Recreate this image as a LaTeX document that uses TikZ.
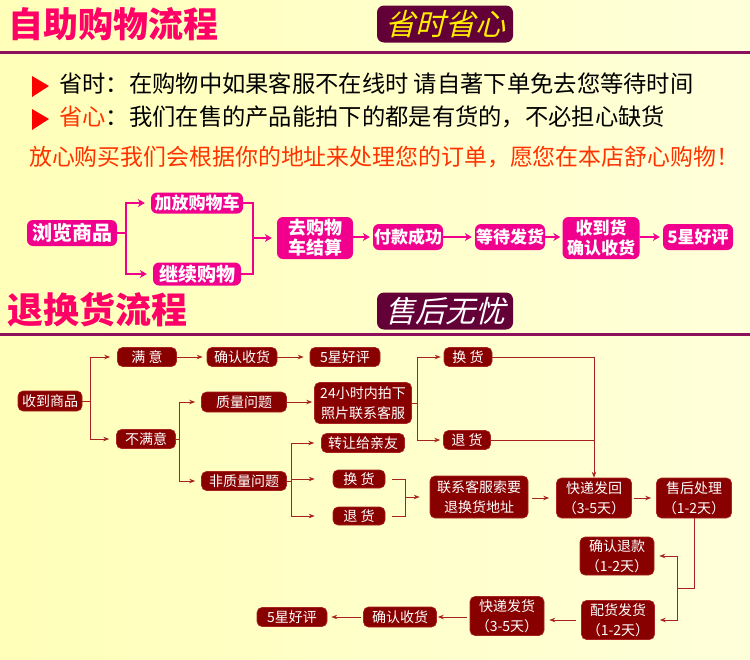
\documentclass[tikz,border=0pt]{standalone}
\usepackage{fontspec}
\setmainfont{Noto Sans CJK SC}
\newfontfamily\cjkslant[FakeSlant=0.25]{Noto Sans CJK SC}
\usetikzlibrary{arrows.meta, positioning}
\definecolor{bgleft}{RGB}{255,255,185}
\definecolor{bgright}{RGB}{255,255,218}
\definecolor{rose}{RGB}{240,0,140}
\definecolor{wine}{RGB}{100,0,56}
\definecolor{rulecol}{RGB}{140,16,92}
\definecolor{maroon}{RGB}{136,0,0}
\definecolor{brick}{RGB}{168,34,34}
\definecolor{titlered}{RGB}{255,0,102}
\definecolor{hintred}{RGB}{255,50,0}
\definecolor{goldtext}{RGB}{255,238,0}

\begin{document}
\begin{tikzpicture}[x=1pt, y=-1pt, >=Stealth,
    pinkbox/.style={fill=rose, text=white, rounded corners=6pt, inner sep=0pt, align=center, font=\fontsize{17}{20}\selectfont\bfseries},
    redbox/.style={fill=maroon, draw=brick, line width=0.6pt, text=white, rounded corners=5pt, inner sep=0pt, align=center, font=\fontsize{14}{20}\selectfont},
    pinkline/.style={rose, line width=1.3pt, -{Stealth[length=7pt,width=8pt]}},
    pinkjoin/.style={rose, line width=1.3pt},
    redline/.style={brick, line width=0.9pt, -{Stealth[length=6pt,width=4.5pt]}},
    redjoin/.style={brick, line width=0.9pt},
    headbox/.style={fill=wine, rounded corners=7pt, minimum width=136pt, minimum height=37pt, inner sep=0pt, font=\cjkslant\fontsize{30}{32}\selectfont},
    bigtitle/.style={text=titlered, inner sep=0pt, font=\fontsize{35}{40}\selectfont\bfseries}]
    \shade[left color=bgleft, right color=bgright] (0,0) rectangle (750,659);
    \useasboundingbox (0,0) rectangle (750,659);

    \node[bigtitle] (title1) at (114,24) {自助购物流程};
    \node[headbox, text=goldtext] (slogan1) at (445,24) {省时省心};
    \fill[rulecol] (0,51) rectangle (750,54);
    \fill[red] (32,76) -- (49,86) -- (32,97) -- cycle;
    \fill[red] (32,109) -- (49,119) -- (32,130) -- cycle;
    \node[anchor=west, inner sep=0pt, font=\fontsize{23.3}{26}\selectfont] (tip1) at (59,84) {省时：在购物中如果客服不在线时 请自著下单免去您等待时间};
    \node[anchor=west, inner sep=0pt, font=\fontsize{23.3}{26}\selectfont] (tip2) at (59,117) {\textcolor{hintred}{省心}：我们在售的产品能拍下的都是有货的，不必担心缺货};
    \node[anchor=west, inner sep=0pt, text=hintred, font=\fontsize{22.9}{26}\selectfont] (tip3) at (29,157) {放心购买我们会根据你的地址来处理您的订单，愿您在本店舒心购物！};

    \node[pinkbox, minimum width=90pt, minimum height=26pt, font=\fontsize{20}{22}\selectfont\bfseries] (browse) at (72,233) {浏览商品};
    \node[pinkbox, minimum width=92pt, minimum height=21pt] (addcart) at (197,203) {加放购物车};
    \node[pinkbox, minimum width=88pt, minimum height=23pt, font=\fontsize{19}{22}\selectfont\bfseries] (keepbuy) at (197,274) {继续购物};
    \node[pinkbox, minimum width=76pt, minimum height=42pt, font=\fontsize{18}{20}\selectfont\bfseries] (checkout) at (315,238) {去购物\\车结算};
    \node[pinkbox, minimum width=70pt, minimum height=26pt] (pay) at (408,237) {付款成功};
    \node[pinkbox, minimum width=70pt, minimum height=26pt] (await) at (510,237) {等待发货};
    \node[pinkbox, minimum width=77pt, minimum height=42pt] (receive) at (601,238) {收到货\\确认收货};
    \node[pinkbox, minimum width=70pt, minimum height=26pt] (praise) at (698,237) {5星好评};
    \coordinate (fork) at (126,233);
    \coordinate (join) at (253,238);

    \draw[pinkjoin] (browse.east) -- (fork);
    \draw[pinkline, shorten >=6pt] (fork) |- (addcart.west);
    \draw[pinkline, shorten >=6pt] (fork) |- (keepbuy.west);
    \draw[pinkjoin] (addcart.east) -| (join);
    \draw[pinkjoin] (keepbuy.east) -| (join);
    \draw[pinkline, shorten >=5pt] (join) -- (checkout.west);
    \draw[pinkline, shorten >=3pt] (checkout.east |- pay) -- (pay.west);
    \draw[pinkline, shorten >=3pt] (pay.east) -- (await.west);
    \draw[pinkline, shorten >=2pt] (await.east) -- (receive.west |- await);
    \draw[pinkline, shorten >=3pt] (receive.east |- praise) -- (praise.west);

    \node[bigtitle, font=\fontsize{36}{40}\selectfont\bfseries] (title2) at (98,310) {退换货流程};
    \node[headbox, text=white] (slogan2) at (445,311) {售后无忧};
    \fill[rulecol] (0,333) rectangle (750,336);

    \node[redbox, minimum width=64pt, minimum height=20pt] (got) at (50,401) {收到商品};
    \node[redbox, minimum width=59pt, minimum height=19pt] (happy) at (147,357) {满 意};
    \node[redbox, minimum width=70pt, minimum height=19pt] (confirm) at (242,357) {确认收货};
    \node[redbox, minimum width=70pt, minimum height=19pt] (stars) at (345,357) {5星好评};
    \node[redbox, minimum width=59pt, minimum height=19pt] (unhappy) at (146,439) {不满意};
    \node[redbox, minimum width=85pt, minimum height=20pt] (quality) at (244,402) {质量问题};
    \node[redbox, minimum width=97pt, minimum height=41pt] (photo) at (363,403) {24小时内拍下\\照片联系客服};
    \node[redbox, minimum width=83pt, minimum height=19pt] (gift) at (363,443) {转让给亲友};
    \node[redbox, minimum width=85pt, minimum height=19pt] (nonquality) at (244,481) {非质量问题};
    \node[redbox, minimum width=48pt, minimum height=19pt] (swapA) at (468,357) {换 货};
    \node[redbox, minimum width=47pt, minimum height=19pt] (refundA) at (467,440) {退 货};
    \node[redbox, minimum width=52pt, minimum height=18pt] (swapB) at (359,479) {换 货};
    \node[redbox, minimum width=52pt, minimum height=18pt] (refundB) at (359,516) {退 货};
    \node[redbox, minimum width=98pt, minimum height=42pt] (contact) at (479,497) {联系客服索要\\退换货地址};
    \node[redbox, minimum width=75pt, minimum height=40pt] (sendback) at (594,498) {快递发回\\（3-5天）};
    \node[redbox, minimum width=75pt, minimum height=40pt] (service) at (694,498) {售后处理\\（1-2天）};
    \node[redbox, minimum width=74pt, minimum height=38pt] (refundok) at (617,556) {确认退款\\（1-2天）};
    \node[redbox, minimum width=73pt, minimum height=39pt] (pack) at (618,620) {配货发货\\（1-2天）};
    \node[redbox, minimum width=74pt, minimum height=39pt] (resend) at (507,616) {快递发货\\（3-5天）};
    \node[redbox, minimum width=73pt, minimum height=20pt] (confirmB) at (400,617) {确认收货};
    \node[redbox, minimum width=70pt, minimum height=19pt] (starsB) at (292,617) {5星好评};
    \coordinate (gotfork) at (90,401);
    \coordinate (badfork) at (179,439);
    \coordinate (photofork) at (417,403);
    \coordinate (otherfork) at (291,481);
    \coordinate (swapjoin) at (405,497);
    \coordinate (servicefork) at (677,588);

    \draw[redjoin] (got.east) -- (gotfork);
    \draw[redline, shorten >=7pt] (gotfork) |- (happy.west);
    \draw[redline, shorten >=7pt] (gotfork) |- (unhappy.west);
    \draw[redline, shorten >=4pt] (happy.east) -- (confirm.west);
    \draw[redline, shorten >=6pt] (confirm.east) -- (stars.west);
    \draw[redjoin] (unhappy.east) -- (badfork);
    \draw[redline, shorten >=6pt] (badfork) |- (quality.west);
    \draw[redline, shorten >=6pt] (badfork) |- (nonquality.west);
    \draw[redline, shorten >=2pt] (quality.east) -- (photo.west |- quality);
    \draw[redjoin] (photo.east) -- (photofork);
    \draw[redline, shorten >=3pt] (photofork) |- (swapA.west);
    \draw[redline, shorten >=3pt] (photofork) |- (refundA.west);
    \draw[redline] (swapA.east) -| (sendback.north);
    \draw[redjoin] (refundA.east) -- (refundA.east -| sendback.north);
    \draw[redjoin] (nonquality.east) -- (otherfork);
    \draw[redline, shorten >=7pt] (otherfork) |- (gift.west);
    \draw[redline, shorten >=18pt] (otherfork) |- (swapB.west);
    \draw[redline, shorten >=18pt] (otherfork) |- (refundB.west);
    \draw[redjoin, shorten <=7pt] (swapB.east) -| (swapjoin);
    \draw[redjoin, shorten <=7pt] (refundB.east) -| (swapjoin);
    \draw[redline, shorten >=10pt] (swapjoin) -- (contact.west);
    \draw[redline, shorten <=4pt, shorten >=7pt] (contact.east |- sendback) -- (sendback.west);
    \draw[redline, shorten <=2pt, shorten >=5pt] (sendback.east) -- (service.west);
    \draw[redjoin] (service.south) |- (servicefork);
    \draw[redline, shorten >=5pt] (servicefork) |- (refundok.east);
    \draw[redline, shorten >=5pt] (servicefork) |- (pack.east);
    \draw[redline, shorten <=5pt, shorten >=5pt] (pack.west) -- (resend.east |- pack);
    \draw[redline, shorten <=3pt, shorten >=1pt] (resend.west |- confirmB) -- (confirmB.east);
    \draw[redline, shorten <=2pt, shorten >=4pt] (confirmB.west) -- (starsB.east);
\end{tikzpicture}
\end{document}
